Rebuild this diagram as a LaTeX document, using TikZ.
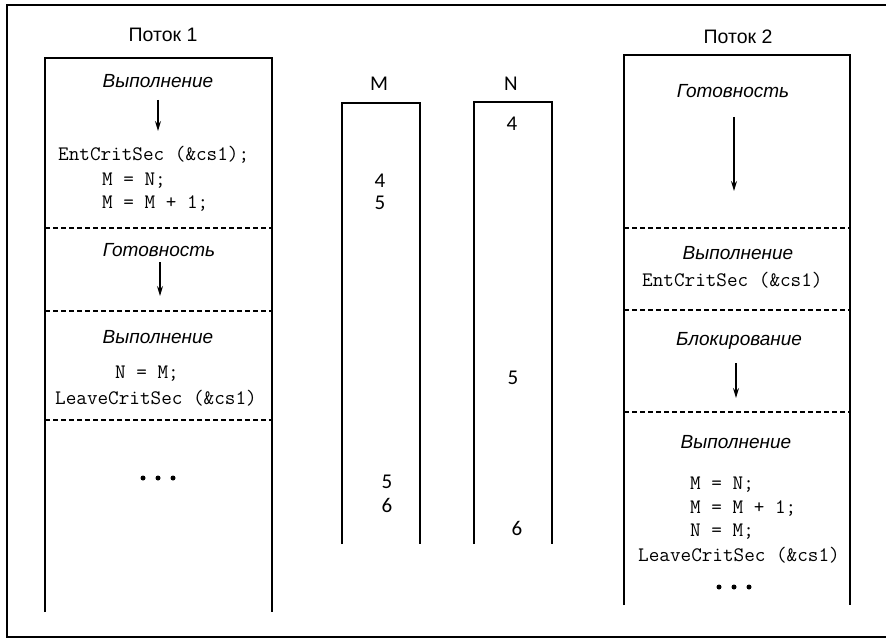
\documentclass[tikz,border=0pt]{standalone}
\usepackage{fontspec}
\setmainfont{Liberation Sans}
\newfontfamily\numfont{Carlito}
\usetikzlibrary{arrows.meta}
\begin{document}
\begin{tikzpicture}[x=1pt,y=-1pt,
  box/.style={line width=2.6pt, line join=miter},
  sep/.style={line width=1.3pt, dash pattern=on 5pt off 3pt},
  state/.style={font=\fontsize{19}{21}\selectfont\itshape, inner sep=0pt, anchor=base},
  title/.style={font=\fontsize{19.5}{21}\selectfont, inner sep=0pt, anchor=base},
  code/.style={font=\ttfamily\fontsize{20.6}{22}\selectfont, inner sep=0pt, anchor=base west},
  num/.style={font=\numfont\fontsize{21}{22}\selectfont, inner sep=0pt, anchor=base},
  flow/.style={line width=1.2pt, -{Stealth[length=10pt,width=6pt]}},
  dot/.style={fill=black, circle, inner sep=0pt, minimum size=5pt}
]
\useasboundingbox (0,0) rectangle (886,639);
% outer frame
\draw[line width=1.4pt] (890,5) -- (7,5) -- (7,637) -- (890,637);

% ---------- Thread 1 ----------
\node[title] (t1) at (163,42) {Поток 1};
\draw[box] (45,612) -- (45,58) -- (272,58) -- (272,612);
\node[state] (a1) at (158,88) {Выполнение};
\coordinate (a1s) at (158,100);
\coordinate (a1e) at (158,131);
\draw[flow] (a1s) -- (a1e);
\node[code] (c1) at (58,161) {EntCritSec (\&cs1);};
\node[code] (c2) at (102,186) {M = N;};
\node[code] (c3) at (102,209) {M = M + 1;};
\draw[sep] (45,228) -- (272,228);
\node[state] (a2) at (159,256) {Готовность};
\coordinate (a2s) at (160,262);
\coordinate (a2e) at (160,296);
\draw[flow] (a2s) -- (a2e);
\draw[sep] (45,311) -- (272,311);
\node[state] (a3) at (158,343) {Выполнение};
\node[code] (c4) at (115,378) {N = M;};
\node[code] (c5) at (55,404) {LeaveCritSec (\&cs1)};
\draw[sep] (45,420) -- (272,420);
\node[dot] (d1) at (143,478) {};
\node[dot] (d2) at (158,478) {};
\node[dot] (d3) at (173,478) {};

% ---------- Variables ----------
\node[num] (mlab) at (379,91) {M};
\draw[box] (342,544) -- (342,103) -- (420,103) -- (420,544);
\node[num] (m1) at (380,188) {4};
\node[num] (m2) at (380,210) {5};
\node[num] (m3) at (387,488) {5};
\node[num] (m4) at (387,512) {6};

\node[num] (nlab) at (511,91) {N};
\draw[box] (474,544) -- (474,102) -- (552,102) -- (552,544);
\node[num] (n1) at (512,131) {4};
\node[num] (n2) at (513,384) {5};
\node[num] (n3) at (517,535) {6};

% ---------- Thread 2 ----------
\node[title] (t2) at (738,44) {Поток 2};
\draw[box] (624,605) -- (624,55) -- (850,55) -- (850,605);
\node[state] (b1) at (733,98) {Готовность};
\coordinate (b1s) at (734,117);
\coordinate (b1e) at (734,191);
\draw[flow] (b1s) -- (b1e);
\draw[sep] (624,228) -- (850,228);
\node[state] (b2) at (738,259) {Выполнение};
\node[code] (e1) at (642,286) {EntCritSec (\&cs1)};
\draw[sep] (624,310) -- (850,310);
\node[state] (b3) at (739,345) {Блокирование};
\coordinate (b3s) at (736,363);
\coordinate (b3e) at (736,398);
\draw[flow] (b3s) -- (b3e);
\draw[sep] (624,412) -- (850,412);
\node[state] (b4) at (736,448) {Выполнение};
\node[code] (e2) at (690,489) {M = N;};
\node[code] (e3) at (690,513) {M = M + 1;};
\node[code] (e4) at (690,536) {N = M;};
\node[code] (e5) at (638,561) {LeaveCritSec (\&cs1)};
\node[dot] (f1) at (719,587) {};
\node[dot] (f2) at (734,587) {};
\node[dot] (f3) at (749,587) {};
\end{tikzpicture}
\end{document}
